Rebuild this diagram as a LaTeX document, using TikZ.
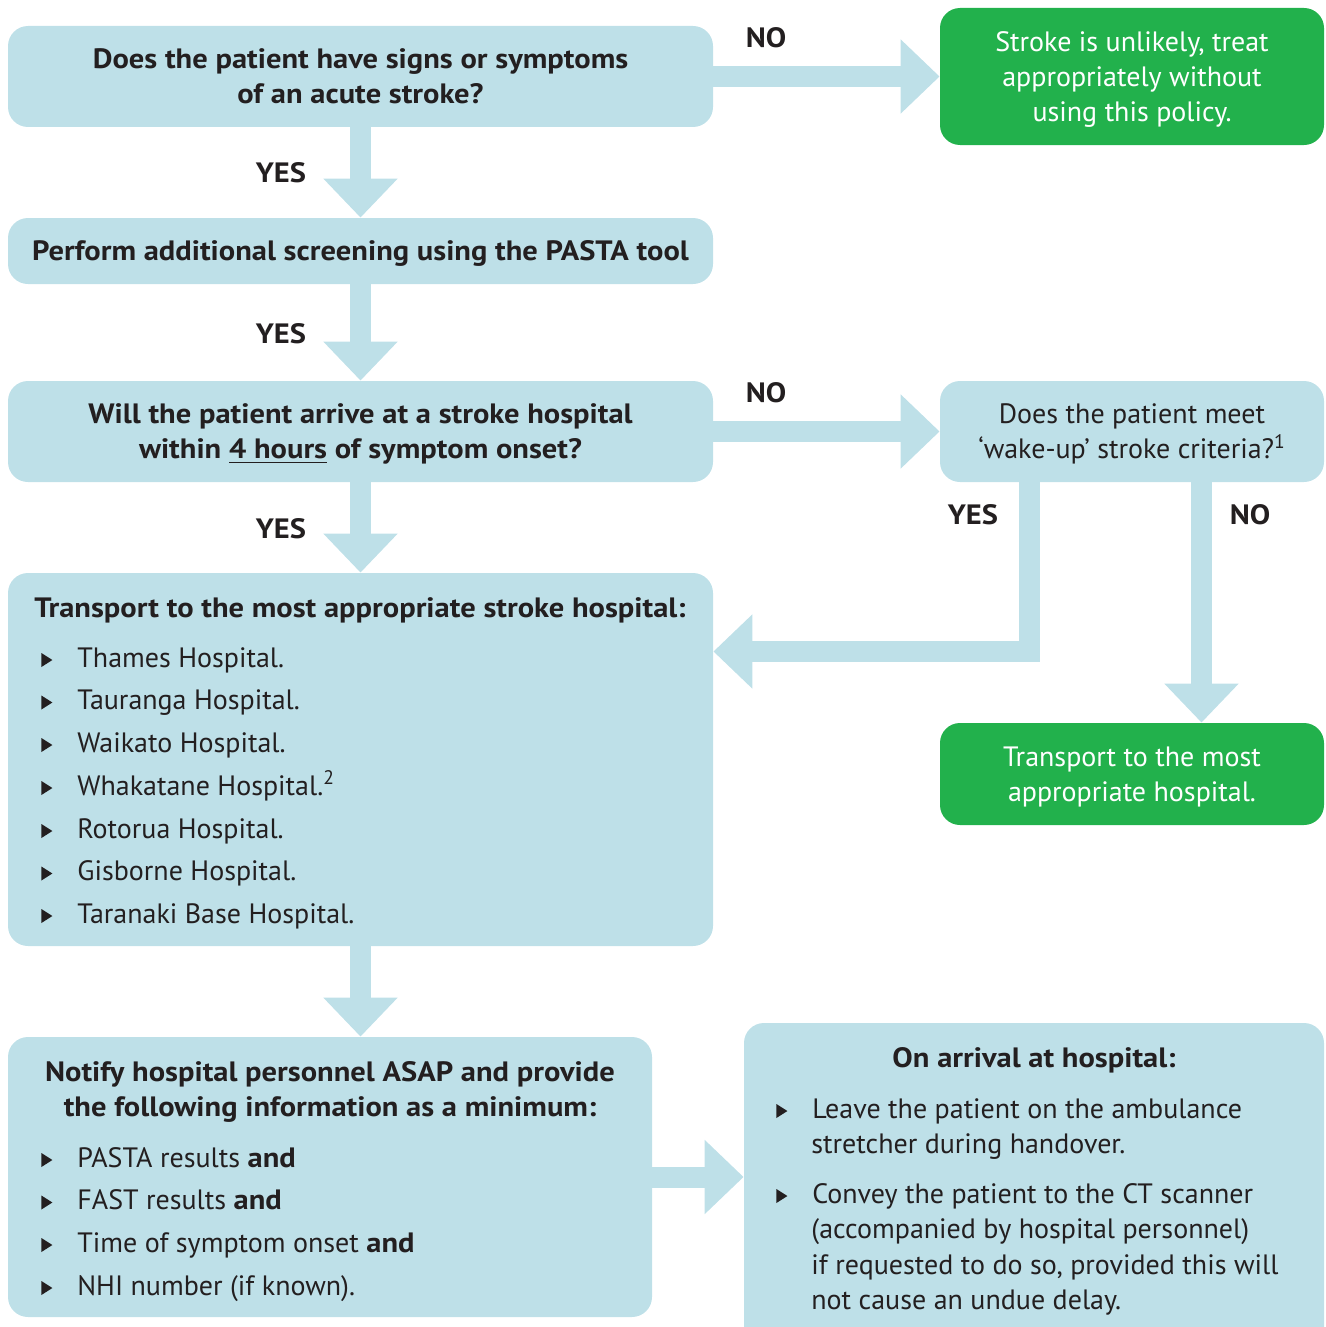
\documentclass[tikz,border=0pt]{standalone}
\usepackage{fontspec}
\setmainfont{PT Sans}[BoldFeatures={FakeStretch=1.09}]
\usetikzlibrary{arrows.meta}

\definecolor{boxblue}{HTML}{BEE0E8}
\definecolor{boxgreen}{HTML}{22B14C}
\definecolor{textdark}{HTML}{231F20}

% small bullet triangle
\newcommand{\tri}{\tikz[baseline=0pt]\fill[textdark] (0pt,0pt) -- (0pt,7pt) -- (5.5pt,3.5pt) -- cycle;}
\newcommand{\bul}{\makebox[18pt][l]{\tri}}

\begin{document}
\begin{tikzpicture}[x=0.5pt,y=-0.5pt,
  every node/.style={font=\fontsize{14pt}{17.5pt}\selectfont, text=textdark, inner sep=0pt},
  bold/.style={font=\fontsize{14pt}{17.5pt}\selectfont\bfseries},
  bluebox/.style={rectangle, rounded corners=10pt, fill=boxblue, align=center, text depth=0pt, minimum width=352.5pt},
  greenbox/.style={rectangle, rounded corners=10pt, fill=boxgreen, text=white, align=center, text depth=0pt, minimum width=192pt},
  fat/.style={draw=boxblue, line width=10.5pt, -{Triangle[length=19.5pt,width=36pt]}},
  line/.style={anchor=base west}]
\useasboundingbox (0,0) rectangle (1326,1327);

% boxes
\node [bluebox, bold, minimum height=50.5pt] (q1) at (360.5,76.5)
  {Does the patient have signs or symptoms\\of an acute stroke?};
\node [greenbox, minimum height=68.5pt] (unlikely) at (1132,76.5)
  {Stroke is unlikely, treat\\appropriately without\\using this policy.};
\node [bluebox, bold, minimum height=33pt] (pasta) at (360.5,251)
  {Perform additional screening using the PASTA tool};
\node [bluebox, bold, minimum height=50.5pt] (q2) at (360.5,431.5)
  {Will the patient arrive at a stroke hospital\\within \underline{4 hours} of symptom onset?};
\node [bluebox, minimum width=192pt, minimum height=50.5pt] (wake) at (1132,431.5)
  {Does the patient meet\\‘wake-up’ stroke criteria?\textsuperscript{1}};
\node [bluebox, minimum height=186.5pt] (transport) at (360.5,759.5) {};
\node [greenbox, minimum height=51pt] (anyhosp) at (1132,774)
  {Transport to the most\\appropriate hospital.};
\node [bluebox, minimum width=322pt, minimum height=140pt] (notify) at (330,1177) {};
\node [bluebox, minimum width=290pt, minimum height=162pt] (arrival) at (1034,1185) {};

% transport list
\node [line, bold] (ttitle) at (34,617) {Transport to the most appropriate stroke hospital:};
\node [line] (h1) at (41,667) {\bul Thames Hospital.};
\node [line] (h2) at (41,709.5) {\bul Tauranga Hospital.};
\node [line] (h3) at (41,752) {\bul Waikato Hospital.};
\node [line] (h4) at (41,795) {\bul Whakatane Hospital.\textsuperscript{2}};
\node [line] (h5) at (41,838) {\bul Rotorua Hospital.};
\node [line] (h6) at (41,880.5) {\bul Gisborne Hospital.};
\node [line] (h7) at (41,923) {\bul Taranaki Base Hospital.};

% notify list
\node [bold, align=center] (ntitle) at (330,1092)
  {Notify hospital personnel ASAP and provide\\the following information as a minimum:};
\node [line] (n1) at (41,1167) {\bul PASTA results \textbf{and}};
\node [line] (n2) at (41,1209.5) {\bul FAST results \textbf{and}};
\node [line] (n3) at (41,1252) {\bul Time of symptom onset \textbf{and}};
\node [line] (n4) at (41,1295) {\bul NHI number (if known).};

% arrival list
\node [bold] (atitle) at (1034,1060) {On arrival at hospital:};
\node [line] (a1) at (776,1118) {\bul Leave the patient on the ambulance};
\node [line] (a1b) at (811,1153) {stretcher during handover.};
\node [line] (a2) at (776,1203) {\bul Convey the patient to the CT scanner};
\node [line] (a2b) at (811,1238) {(accompanied by hospital personnel)};
\node [line] (a2c) at (811,1274) {if requested to do so, provided this will};
\node [line] (a2d) at (811,1309) {not cause an undue delay.};

% connectors
\coordinate (yesbend) at (1029.5,651.5);
\coordinate (nox) at (1201.5,0);
\draw [fat] (q1.east) -- (unlikely.west);
\draw [fat] (q1.south) -- (pasta.north);
\draw [fat] (pasta.south) -- (q2.north);
\draw [fat] (q2.east) -- (wake.west);
\draw [fat] (q2.south) -- (transport.north);
\draw [fat] (yesbend |- wake.south) -- (yesbend) -- (yesbend -| transport.east);
\draw [fat] (nox |- wake.south) -- (nox |- anyhosp.north);
\draw [fat] (transport.south) -- (transport.south |- notify.north);
\draw [fat] (notify.east) -- (notify.east -| arrival.west);

% yes / no labels
\node [bold] (no1) at (766,38) {NO};
\node [bold] (yes1) at (281,173) {YES};
\node [bold] (yes2) at (281,334) {YES};
\node [bold] (no2) at (766,393) {NO};
\node [bold] (yes3) at (281,529) {YES};
\node [bold] (yes4) at (973,515) {YES};
\node [bold] (no3) at (1250,515) {NO};
\end{tikzpicture}
\end{document}
